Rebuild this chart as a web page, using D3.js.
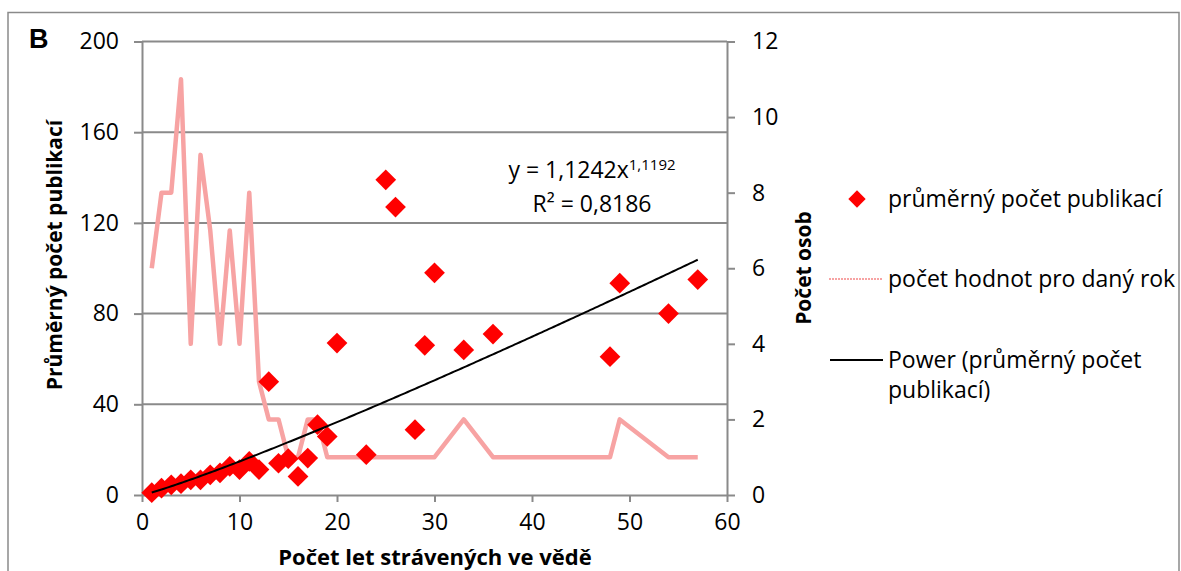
<!DOCTYPE html>
<html>
<head>
<meta charset="utf-8">
<script src="https://cdn.jsdelivr.net/npm/d3@7"></script>
<style>
  body { margin: 0; background: #fff; }
  text { font-family: "Open Sans", sans-serif; fill: #000; }
</style>
</head>
<body>
<svg id="chart" width="1181" height="571"></svg>
<script>
// years spent in science (x), mean publications (left axis), number of people (right axis)
var years = [1,2,3,4,5,6,7,8,9,10,11,12,13,14,15,16,17,18,19,20,23,25,26,28,29,30,33,36,48,49,54,57];
var meanPubs = [1,3,4.5,5,6.7,6.7,8.9,9.8,12.6,11.2,14.8,11.2,50,14,16,8.2,16.3,31,25.8,67,17.8,139,127,28.8,66,98,64,71,61,93.4,80,95];
var counts = [6,8,8,11,4,9,7,4,7,4,8,3,2,2,1,1,2,2,1,1,1,1,1,1,1,1,2,1,1,2,1,1];

var xTicks = [0,10,20,30,40,50,60];
var leftTicks = [0,40,80,120,160,200];
var rightTicks = [0,2,4,6,8,10,12];

// power trendline as given in the chart label
var trendA = 1.1242, trendB = 1.1192;
var trendText = "y = 1,1242x", trendExpText = "1,1192", r2Text = "R² = 0,8186";

var legendLabels = ["průměrný počet publikací", "počet hodnot pro daný rok", "Power (průměrný počet", "publikací)"];

var svg = d3.select("#chart");
var grey = "#8a8a8a";
var pink = "#f7a3a3";

var x = d3.scaleLinear().domain([0, 60]).range([142, 727]);
var yL = d3.scaleLinear().domain([0, 200]).range([495, 41.5]);
var yR = d3.scaleLinear().domain([0, 12]).range([495, 41.5]);

// chart border
svg.append("rect").attr("x", 8).attr("y", 12.5).attr("width", 1171).attr("height", 600)
  .attr("fill", "none").attr("stroke", grey).attr("stroke-width", 1.5);

// gridlines
svg.append("g").selectAll("line").data(leftTicks.slice(1)).join("line")
  .attr("x1", x(0)).attr("x2", x(60))
  .attr("y1", d => yL(d)).attr("y2", d => yL(d))
  .attr("stroke", grey).attr("stroke-width", 2);

function styleAxis(g) {
  g.selectAll("path, line").attr("stroke", grey).attr("stroke-width", 2);
  g.selectAll("text").style("font-size", "23px").attr("fill", "#000");
}

svg.append("g").attr("transform", "translate(" + x(0) + ",0)")
  .call(d3.axisLeft(yL).tickValues(leftTicks).tickSize(8).tickSizeOuter(0).tickPadding(15))
  .call(styleAxis);

svg.append("g").attr("transform", "translate(" + x(60) + ",0)")
  .call(d3.axisRight(yR).tickValues(rightTicks).tickSize(8).tickSizeOuter(0).tickPadding(17))
  .call(styleAxis);

svg.append("g").attr("transform", "translate(0," + yL(0) + ")")
  .call(d3.axisBottom(x).tickValues(xTicks).tickSize(7).tickSizeOuter(0).tickPadding(12))
  .call(styleAxis);

// count line (right axis)
var countData = years.map((d, i) => [d, counts[i]]);
svg.append("path").datum(countData)
  .attr("d", d3.line().x(d => x(d[0])).y(d => yR(d[1])))
  .attr("fill", "none").attr("stroke", pink).attr("stroke-width", 4.5)
  .attr("stroke-linejoin", "round");

// scatter diamonds
var diamond = d3.symbol().type(d3.symbolSquare).size(215);
svg.append("g").selectAll("path").data(years.map((d, i) => [d, meanPubs[i]])).join("path")
  .attr("d", diamond)
  .attr("transform", d => "translate(" + x(d[0]) + "," + yL(d[1]) + ") rotate(45)")
  .attr("fill", "#ff0000");

// trendline
var trendXs = d3.range(1, 57.01, 0.25);
svg.append("path").datum(trendXs)
  .attr("d", d3.line().x(d => x(d)).y(d => yL(trendA * Math.pow(d, trendB))))
  .attr("fill", "none").attr("stroke", "#000").attr("stroke-width", 2);

// equation label
var eq = svg.append("text").attr("x", 592).attr("y", 178).attr("text-anchor", "middle").style("font-size", "23px");
eq.append("tspan").text(trendText);
eq.append("tspan").attr("dy", -8).style("font-size", "15px").text(trendExpText);
svg.append("text").attr("x", 592).attr("y", 212).attr("text-anchor", "middle").style("font-size", "23px").text(r2Text);

// titles
svg.append("text").attr("x", 29).attr("y", 48).style("font-family", "Liberation Sans, Arial, sans-serif")
  .style("font-weight", "bold").style("font-size", "27px").text("B");

svg.append("text").attr("transform", "translate(62,255) rotate(-90)").attr("text-anchor", "middle")
  .style("font-weight", "bold").style("font-size", "21px").text("Průměrný počet publikací");

svg.append("text").attr("transform", "translate(811,268) rotate(-90)").attr("text-anchor", "middle")
  .style("font-weight", "bold").style("font-size", "21px").text("Počet osob");

svg.append("text").attr("x", 435).attr("y", 565).attr("text-anchor", "middle")
  .style("font-weight", "bold").style("font-size", "22px").text("Počet let strávených ve vědě");

// legend
var lg = svg.append("g");
lg.append("path").attr("d", d3.symbol().type(d3.symbolSquare).size(150))
  .attr("transform", "translate(857,199) rotate(45)").attr("fill", "#ff0000");
lg.append("line").attr("x1", 829).attr("x2", 883).attr("y1", 279).attr("y2", 279)
  .attr("stroke", pink).attr("stroke-width", 2).attr("stroke-dasharray", "2,1");
lg.append("line").attr("x1", 830).attr("x2", 883).attr("y1", 360).attr("y2", 360)
  .attr("stroke", "#000").attr("stroke-width", 2);
var legY = [207, 287, 368, 398];
lg.selectAll("text").data(legendLabels).join("text")
  .attr("x", 888).attr("y", (d, i) => legY[i]).style("font-size", "23px").text(d => d);
</script>
</body>
</html>
